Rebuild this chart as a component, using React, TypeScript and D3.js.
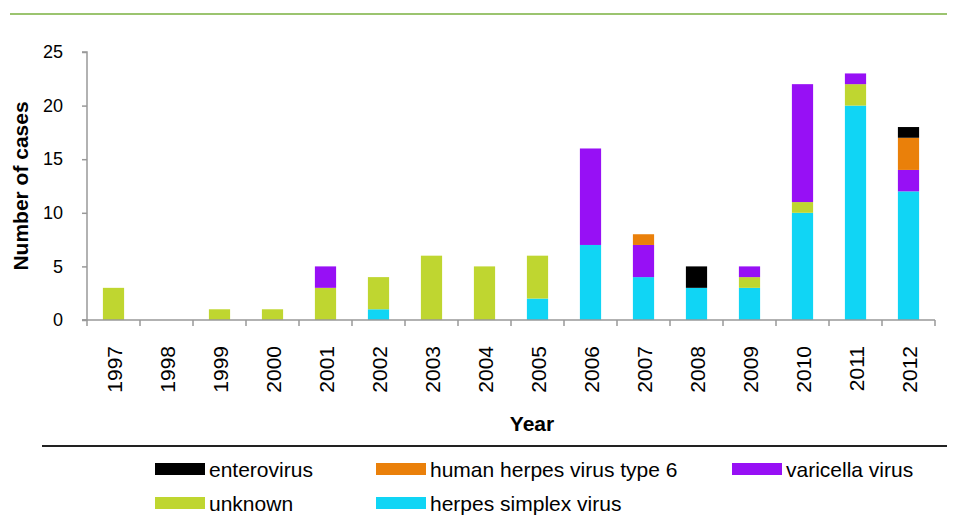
import * as d3 from 'd3';
import React, { useEffect, useRef } from 'react';

const years = ['1997', '1998', '1999', '2000', '2001', '2002', '2003', '2004', '2005', '2006', '2007', '2008', '2009', '2010', '2011', '2012'];
const herpesSimplex = [0, 0, 0, 0, 0, 1, 0, 0, 2, 7, 4, 3, 3, 10, 20, 12];
const unknown = [3, 0, 1, 1, 3, 3, 6, 5, 4, 0, 0, 0, 1, 1, 2, 0];
const varicella = [0, 0, 0, 0, 2, 0, 0, 0, 0, 9, 3, 0, 1, 11, 1, 2];
const hhv6 = [0, 0, 0, 0, 0, 0, 0, 0, 0, 0, 1, 0, 0, 0, 0, 3];
const enterovirus = [0, 0, 0, 0, 0, 0, 0, 0, 0, 0, 0, 2, 0, 0, 0, 1];
const yTicks = [0, 5, 10, 15, 20, 25];

// stacking order, bottom to top
const seriesKeys = ['herpes simplex virus', 'unknown', 'varicella virus', 'human herpes virus type 6', 'enterovirus'];
const seriesValues = [herpesSimplex, unknown, varicella, hhv6, enterovirus];
const colors = ['#10d5f5', '#bfd630', '#9710f5', '#ea800a', '#000000'];

// legend layout (rows as in the picture)
const legendRows = [
    ['enterovirus', 'human herpes virus type 6', 'varicella virus'],
    ['unknown', 'herpes simplex virus'],
];

const App = () => {
    const ref = useRef(null);
    const W = 955;
    const H = 524;
    const margin = { top: 52, left: 87 };
    const width = 935 - margin.left;
    const height = 320 - margin.top;
    const font = 'Liberation Sans, Arial, sans-serif';

    useEffect(() => {
        const root = d3.select(ref.current);
        root.selectAll('*').remove();
        const svg = root.append('svg')
            .attr('width', W)
            .attr('height', H)
            .style('display', 'block')
            .style('font-family', font);

        // green rule at top
        svg.append('line')
            .attr('x1', 10).attr('x2', W).attr('y1', 14).attr('y2', 14)
            .attr('stroke', '#9bc46f').attr('stroke-width', 2);

        const g = svg.append('g').attr('transform', `translate(${margin.left},${margin.top})`);

        const x = d3.scaleBand().domain(years).range([0, width]).paddingInner(0.6).paddingOuter(0.3);
        const y = d3.scaleLinear().domain([0, 25]).range([height, 0]);

        const table = years.map((yr, i) => {
            const row: any = { year: yr };
            seriesKeys.forEach((k, j) => { row[k] = seriesValues[j][i]; });
            return row;
        });
        const stacked = d3.stack().keys(seriesKeys)(table);

        stacked.forEach((layer, j) => {
            g.append('g').selectAll('rect')
                .data(layer)
                .enter().append('rect')
                .attr('x', (d: any) => x(d.data.year))
                .attr('width', x.bandwidth())
                .attr('y', d => y(d[1]))
                .attr('height', d => y(d[0]) - y(d[1]))
                .attr('fill', colors[j]);
        });

        // y axis
        const yAxis = g.append('g').call(d3.axisLeft(y).tickValues(yTicks).tickSize(5).tickPadding(19));
        yAxis.selectAll('path, line').attr('stroke', '#999').attr('stroke-width', 1.5);
        yAxis.select('.domain').attr('d', `M-5,0H0V${height}H-5`);
        yAxis.selectAll('text').style('font-size', '18px').attr('fill', '#000').style('font-family', font);

        // x axis with ticks at band boundaries
        const xg = g.append('g').attr('transform', `translate(0,${height})`);
        xg.append('line').attr('x1', -5).attr('x2', width).attr('stroke', '#999').attr('stroke-width', 1.5);
        const bounds = d3.range(years.length + 1).map(i => i * (width / years.length));
        xg.selectAll('.tk').data(bounds).enter().append('line')
            .attr('x1', d => d).attr('x2', d => d).attr('y1', 0).attr('y2', 6)
            .attr('stroke', '#999').attr('stroke-width', 1.5);
        xg.selectAll('.lbl').data(years).enter().append('text')
            .attr('transform', d => `translate(${x(d) + x.bandwidth() / 2 + 8},26) rotate(-90)`)
            .attr('text-anchor', 'end')
            .style('font-size', '21px')
            .text(d => d);

        // axis titles
        svg.append('text')
            .attr('transform', `translate(28,186) rotate(-90)`)
            .attr('text-anchor', 'middle')
            .style('font-size', '21px').style('font-weight', 'bold')
            .text('Number of cases');
        svg.append('text')
            .attr('x', 532).attr('y', 431)
            .attr('text-anchor', 'middle')
            .style('font-size', '21px').style('font-weight', 'bold')
            .text('Year');

        // black rule above legend
        svg.append('line')
            .attr('x1', 42).attr('x2', 950).attr('y1', 446).attr('y2', 446)
            .attr('stroke', '#222').attr('stroke-width', 2);

        const colX = [155, 376, 732];
        const rowY = [469, 503];
        legendRows.forEach((row, r) => {
            row.forEach((name, c) => {
                const idx = seriesKeys.indexOf(name);
                svg.append('rect')
                    .attr('x', colX[c]).attr('y', rowY[r] - 6)
                    .attr('width', 50).attr('height', 12)
                    .attr('fill', colors[idx]);
                svg.append('text')
                    .attr('x', colX[c] + 54).attr('y', rowY[r] + 8)
                    .style('font-size', '21px')
                    .text(name);
            });
        });
    }, []);

    return <div ref={ref} style={{ margin: -8 }} />;
};

export default App;
